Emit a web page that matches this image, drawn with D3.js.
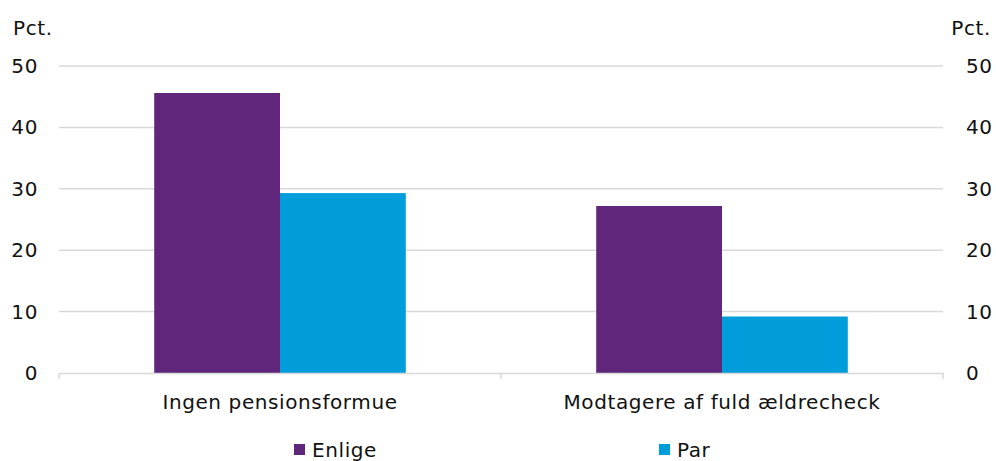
<!DOCTYPE html>
<html>
<head>
<meta charset="utf-8">
<script src="https://cdn.jsdelivr.net/npm/d3@7"></script>
<style>
  html, body { margin: 0; padding: 0; background: #fff; }
  svg { display: block; font-family: "DejaVu Sans", Verdana, sans-serif; }
  text { letter-spacing: 0.6px; }
</style>
</head>
<body>
<svg id="chart" width="996" height="461"></svg>
<script>
// Andel i pct.
const categories = ["Ingen pensionsformue", "Modtagere af fuld ældrecheck"];
const seriesNames = ["Enlige", "Par"];
const enlige = [45.6, 27.2];
const par = [29.3, 9.2];
const yTicks = [0, 10, 20, 30, 40, 50];
const colors = ["#60267b", "#009ddb"];

const seriesValues = [enlige, par];
const plot = { left: 59, right: 943, top: 66, bottom: 373 };
const svg = d3.select("#chart");

const x = d3.scaleBand().domain(categories).range([plot.left, plot.right]).padding(0);
const xs = d3.scaleBand().domain(seriesNames).range([0, x.bandwidth()])
  .paddingInner(0).paddingOuter(0.757);
const y = d3.scaleLinear().domain([0, 50]).range([plot.bottom, plot.top]);

const fs = 20;
const ink = "#111";

// gridlines
svg.append("g").selectAll("line").data(yTicks.filter(d => d > 0)).join("line")
  .attr("x1", plot.left).attr("x2", plot.right)
  .attr("y1", d => y(d)).attr("y2", d => y(d))
  .attr("stroke", "#d9d9d9").attr("stroke-width", 1.5);

// bars
const groups = svg.append("g").selectAll("g").data(categories).join("g")
  .attr("transform", d => `translate(${x(d)},0)`);
groups.selectAll("rect")
  .data((c, i) => seriesNames.map((s, j) => ({ s, v: seriesValues[j][i], j })))
  .join("rect")
  .attr("x", d => xs(d.s))
  .attr("width", xs.bandwidth())
  .attr("y", d => y(d.v))
  .attr("height", d => y(0) - y(d.v))
  .attr("fill", d => colors[d.j]);

// x axis
const xAxis = d3.axisBottom(x).tickSize(0).tickFormat("");
const gx = svg.append("g").attr("transform", `translate(0,${plot.bottom})`).call(xAxis);
gx.select(".domain").attr("stroke", "#d9d9d9").attr("stroke-width", 1.5);
const boundaries = [plot.left, ...categories.map(c => x(c) + x.bandwidth())];
svg.append("g").selectAll("line").data(boundaries).join("line")
  .attr("x1", d => d).attr("x2", d => d)
  .attr("y1", plot.bottom).attr("y2", plot.bottom + 6)
  .attr("stroke", "#d9d9d9").attr("stroke-width", 1.5);
svg.append("g").selectAll("text").data(categories).join("text")
  .attr("x", d => x(d) + x.bandwidth() / 2)
  .attr("y", 409)
  .attr("text-anchor", "middle")
  .attr("font-size", fs).attr("fill", ink)
  .text(d => d);

// y axes (left and right)
const yl = d3.axisLeft(y).tickValues(yTicks).tickSize(0).tickPadding(21);
const gl = svg.append("g").attr("transform", `translate(${plot.left},0)`).call(yl);
const yr = d3.axisRight(y).tickValues(yTicks).tickSize(0).tickPadding(23);
const gr = svg.append("g").attr("transform", `translate(${plot.right},0)`).call(yr);
[gl, gr].forEach(g => {
  g.select(".domain").remove();
  g.selectAll("text").attr("font-size", fs).attr("fill", ink)
    .attr("font-family", "DejaVu Sans, Verdana, sans-serif");
});

// unit labels
svg.append("text").attr("x", 13).attr("y", 35).attr("font-size", fs).attr("fill", ink).text("Pct.");
svg.append("text").attr("x", 991).attr("y", 35).attr("text-anchor", "end")
  .attr("font-size", fs).attr("fill", ink).text("Pct.");

// legend
const legendX = [294, 659];
const lg = svg.append("g").selectAll("g").data(seriesNames).join("g")
  .attr("transform", (d, i) => `translate(${legendX[i]},444)`);
lg.append("rect").attr("width", 11).attr("height", 11).attr("fill", (d, i) => colors[i]);
lg.append("text").attr("x", 18).attr("y", 13).attr("font-size", fs).attr("fill", ink).text(d => d);
</script>
</body>
</html>
